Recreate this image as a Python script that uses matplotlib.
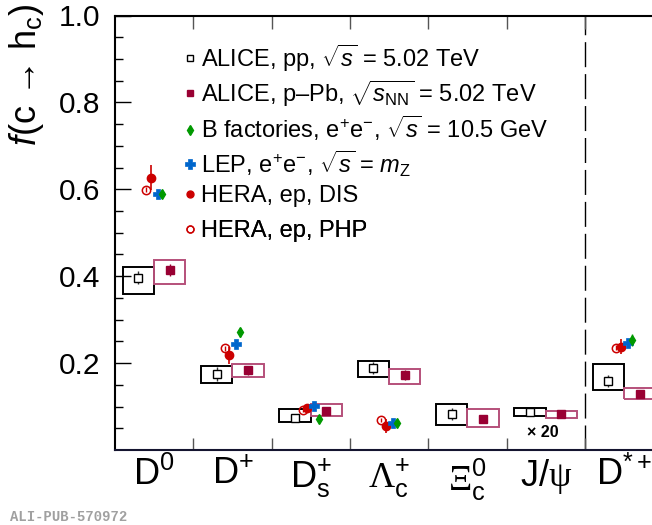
import matplotlib
matplotlib.use("Agg")
import matplotlib.pyplot as plt
from matplotlib.lines import Line2D
import numpy as np

plt.rcParams['font.family'] = ['Liberation Sans', 'DejaVu Sans']
plt.rcParams['mathtext.fontset'] = 'custom'
plt.rcParams['mathtext.rm'] = 'Liberation Sans'
plt.rcParams['mathtext.it'] = 'Liberation Sans:italic'
plt.rcParams['mathtext.bf'] = 'Liberation Sans:bold'
plt.rcParams['mathtext.cal'] = 'Liberation Serif'

# ---------------- data ----------------
cat_labels = [r'D$^{0}$', r'D$^{+}$', r'D$_{\rm s}^{+}$', r'$\mathcal{\Lambda}_{\rm c}^{+}$',
              r'$\mathcal{\Xi}_{\rm c}^{0}$', r'J/$\mathcal{\psi}$', r'D$^{*+}$']

# ALICE pp, sqrt(s) = 5.02 TeV
pp_val = [0.397, 0.175, 0.074, 0.189, 0.083, 0.087, 0.159]
pp_stat = [0.016, 0.016, 0.006, 0.013, 0.013, 0.004, 0.013]
pp_sys_lo = [0.358, 0.155, 0.064, 0.168, 0.057, 0.078, 0.138]
pp_sys_hi = [0.421, 0.193, 0.094, 0.205, 0.106, 0.096, 0.198]

# ALICE p-Pb, sqrt(sNN) = 5.02 TeV
ppb_val = [0.414, 0.183, 0.090, 0.172, 0.071, 0.082, 0.130]
ppb_stat = [0.013, 0.010, 0.005, 0.011, 0.010, 0.003, 0.008]
ppb_sys_lo = [0.381, 0.168, 0.078, 0.153, 0.053, 0.073, 0.117]
ppb_sys_hi = [0.4375, 0.198, 0.107, 0.186, 0.0935, 0.090, 0.142]

# other experiments (D0, D+, Ds+, Lc+, D*+)
ee_idx = [0, 1, 2, 3, 6]
bfac_val = [0.589, 0.271, 0.071, 0.061, 0.253]
bfac_err = [0.010, 0.010, 0.006, 0.006, 0.013]
lep_val = [0.589, 0.243, 0.101, 0.061, 0.247]
lep_err = [0.007, 0.006, 0.006, 0.006, 0.008]
dis_val = [0.627, 0.218, 0.096, 0.055, 0.2375]
dis_err = [0.028, 0.020, 0.008, 0.017, 0.017]
php_val = [0.599, 0.234, 0.091, 0.069, 0.235]
php_err = [0.006, 0.006, 0.004, 0.004, 0.006]

legend_labels = [
    r'ALICE, pp, $\sqrt{s}$ = 5.02 TeV',
    r'ALICE, p–Pb, $\sqrt{s_{\rm NN}}$ = 5.02 TeV',
    r'B factories, e$^{+}$e$^{-}$, $\sqrt{s}$ = 10.5 GeV',
    r'LEP, e$^{+}$e$^{-}$, $\sqrt{s}$ = $m_{\rm Z}$',
    'HERA, ep, DIS',
    'HERA, ep, PHP',
]

# ---------------- style ----------------
c_pp = 'black'
c_ppb = '#990033'
c_ppb_box = '#b5507a'
c_bfac = '#009900'
c_lep = '#0066cc'
c_hera = '#cc0000'

W, H = 652, 525
fig = plt.figure(figsize=(W / 100, H / 100), dpi=100)
left_px, right_px, top_px, bot_px = 115, 663.3, 15.5, 450
ax = fig.add_axes([left_px / W, 1 - bot_px / H, (right_px - left_px) / W, (bot_px - top_px) / H])

x = np.arange(len(cat_labels))
xe = x[ee_idx]

# systematic boxes
ax.bar(x - 0.2, np.array(pp_sys_hi) - np.array(pp_sys_lo), bottom=pp_sys_lo, width=0.4,
       fill=False, edgecolor=c_pp, linewidth=1.4, zorder=2)
ax.bar(x + 0.2, np.array(ppb_sys_hi) - np.array(ppb_sys_lo), bottom=ppb_sys_lo, width=0.4,
       fill=False, edgecolor=c_ppb_box, linewidth=1.4, zorder=2)

ax.errorbar(x - 0.2, pp_val, yerr=pp_stat, fmt='s', ms=5.5, mfc='white', mec=c_pp, mew=1.0,
            ecolor='#333333', elinewidth=1.0, capsize=0, zorder=4)
ax.errorbar(x + 0.2, ppb_val, yerr=ppb_stat, fmt='s', ms=5.5, mfc=c_ppb, mec=c_ppb, mew=1.0,
            ecolor=c_ppb, elinewidth=1.0, capsize=0, zorder=4)

ax.errorbar(xe - 0.10, php_val, yerr=php_err, fmt='o', ms=6, mfc='none', mec=c_hera, mew=1.1,
            ecolor=c_hera, elinewidth=1.0, capsize=0, zorder=5)
ax.errorbar(xe - 0.045, dis_val, yerr=dis_err, fmt='o', ms=6, mfc=c_hera, mec=c_hera,
            ecolor=c_hera, elinewidth=1.2, capsize=0, zorder=5)
ax.errorbar(xe + 0.045, lep_val, yerr=lep_err, fmt='P', ms=7.5, mfc=c_lep, mec=c_lep, mew=0.5,
            ecolor=c_lep, elinewidth=1.2, capsize=0, zorder=5)
ax.errorbar(xe + 0.10, bfac_val, yerr=bfac_err, fmt='d', ms=5.5, mfc=c_bfac, mec=c_bfac,
            ecolor=c_bfac, elinewidth=1.0, capsize=0, zorder=5)

ax.text(4.96, 0.041, '× 20', ha='center', va='center', fontsize=11.5, fontweight='bold')

# dashed separator
ax.axvline(5.5, color='black', lw=1.0, dashes=(18, 5), zorder=1)

# axes
ax.set_xlim(-0.5, 6.5)
ax.set_ylim(0.0, 1.0)
ax.set_yticks([0.2, 0.4, 0.6, 0.8, 1.0])
ax.set_yticklabels(['0.2', '0.4', '0.6', '0.8', '1.0'])
ax.set_yticks(np.arange(0.05, 1.0, 0.05), minor=True)
ax.tick_params(axis='y', which='major', direction='in', length=11.5, width=1.0,
               labelsize=21.5, pad=10.5, left=True, right=False)
ax.tick_params(axis='y', which='minor', direction='in', length=5.8, width=1.0,
               left=True, right=False)

ax.set_xticks(x)
ax.set_xticklabels(cat_labels)
ax.set_xticks(np.arange(0.5, 6.0, 1.0), minor=True)
ax.tick_params(axis='x', which='major', length=0, labelsize=26, pad=5)
ax.tick_params(axis='x', which='minor', direction='in', length=9, width=1.0,
               color='#555555', top=True, bottom=True)

for s in ['left', 'top', 'bottom']:
    ax.spines[s].set_linewidth(1.5)
    ax.spines[s].set_color('black')
ax.spines['bottom'].set_color('#151530')
ax.spines['right'].set_visible(False)

fig.text(27 / W, 1 - 4 / H, r'$f$(c → h$_{\rm c}$)', rotation=90, ha='center', va='top',
         fontsize=26)

# legend: one entry per row so that rows are evenly spaced
handles = [
    Line2D([], [], ls='none', marker='s', ms=5, mfc='white', mec=c_pp, mew=1.0),
    Line2D([], [], ls='none', marker='s', ms=5, mfc=c_ppb, mec=c_ppb),
    Line2D([], [], ls='none', marker='d', ms=5, mfc=c_bfac, mec=c_bfac),
    Line2D([], [], ls='none', marker='P', ms=6.5, mfc=c_lep, mec=c_lep, mew=0.5),
    Line2D([], [], ls='none', marker='o', ms=5, mfc=c_hera, mec=c_hera),
    Line2D([], [], ls='none', marker='o', ms=5, mfc='none', mec=c_hera, mew=1.0),
]
row_y_px = [58, 93.5, 128.5, 163.5, 196.5, 231.5]
leg_x = (181 - left_px) / (right_px - left_px)
for h, lab, yp in zip(handles, legend_labels, row_y_px):
    lg = ax.legend([h], [lab], loc='center left',
                   bbox_to_anchor=(leg_x, (bot_px - yp) / (bot_px - top_px)),
                   frameon=False, fontsize=17, handlelength=0.75, handletextpad=0.1,
                   borderpad=0, borderaxespad=0)
    ax.add_artist(lg)

fig.text(10 / W, 1 - 517 / H, 'ALI-PUB-570972', family='Liberation Mono', fontweight='bold',
         fontsize=10, color='#a0a0a0', ha='left', va='center')

fig.savefig('out.png', dpi=100)
